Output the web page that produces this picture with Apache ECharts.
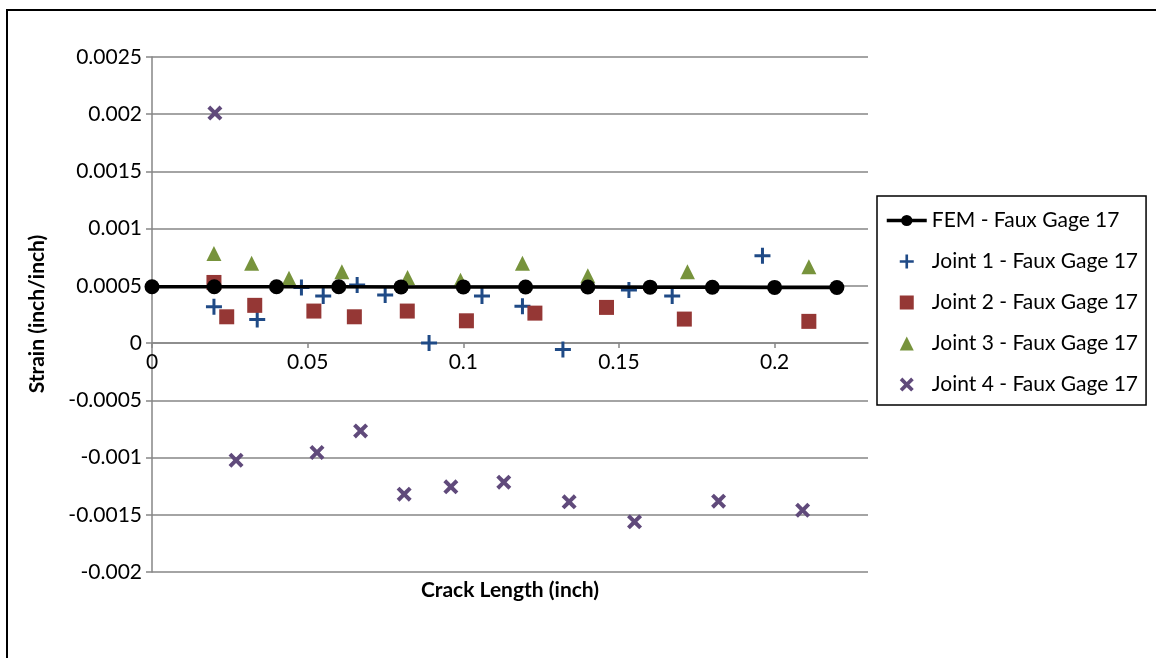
<!DOCTYPE html>
<html>
<head>
<meta charset="utf-8">
<script src="https://cdn.jsdelivr.net/npm/echarts@6/dist/echarts.min.js"></script>
<style>
  html, body { margin: 0; padding: 0; background: #fff; }
  #chart { width: 1156px; height: 658px; }
</style>
</head>
<body>
<div id="chart"></div>
<script>
// Crack length (inch) vs. strain (inch/inch) for Faux Gage 17
const femX = [0, 0.02, 0.04, 0.06, 0.08, 0.10, 0.12, 0.14, 0.16, 0.18, 0.20, 0.22];
const femY = [0.000493, 0.000493, 0.000492, 0.000492, 0.000491, 0.000491, 0.00049, 0.00049, 0.000489, 0.000488, 0.000487, 0.000486];

const joint1X = [0.0199, 0.0338, 0.048, 0.055, 0.0659, 0.0749, 0.089, 0.106, 0.119, 0.132, 0.1532, 0.1671, 0.1961];
const joint1Y = [0.000317, 0.000207, 0.000487, 0.000411, 0.000507, 0.00042, 0.0, 0.000411, 0.000323, -0.000055, 0.000463, 0.000411, 0.000763];

const joint2X = [0.0199, 0.024, 0.033, 0.052, 0.065, 0.082, 0.101, 0.123, 0.146, 0.171, 0.211];
const joint2Y = [0.00053, 0.00023, 0.00033, 0.00028, 0.00023, 0.00028, 0.000195, 0.000262, 0.000312, 0.00021, 0.00019];

const joint3X = [0.0199, 0.032, 0.044, 0.061, 0.0821, 0.0991, 0.119, 0.140, 0.172, 0.211];
const joint3Y = [0.000784, 0.000697, 0.000566, 0.000623, 0.000574, 0.00055, 0.000697, 0.000588, 0.000623, 0.000667];

const joint4X = [0.0202, 0.027, 0.053, 0.067, 0.081, 0.096, 0.113, 0.134, 0.155, 0.182, 0.209];
const joint4Y = [0.00201, -0.001023, -0.000956, -0.000767, -0.00132, -0.001256, -0.001215, -0.001387, -0.001562, -0.001381, -0.00146];

const seriesNames = ['FEM - Faux Gage 17', 'Joint 1 - Faux Gage 17', 'Joint 2 - Faux Gage 17', 'Joint 3 - Faux Gage 17', 'Joint 4 - Faux Gage 17'];
const xTicks = [0, 0.05, 0.1, 0.15, 0.2];

const pair = (xs, ys) => xs.map((x, i) => [x, ys[i]]);

const FONT = 'Lato';
const FS = 21;
const GRID_COLOR = '#868686';
const COLORS = ['#000000', '#1F4A86', '#953735', '#77933C', '#604A7B'];
const PLUS = 'path://M6.5,0h3v6.5h6.5v3h-6.5v6.5h-3v-6.5h-6.5v-3h6.5z';
const CROSS = 'path://M3,0L8,5L13,0L16,3L11,8L16,13L13,16L8,11L3,16L0,13L5,8L0,3Z';
const SQUARE = 'path://M0,0h10v10h-10z';
const TRIANGLE = 'path://M5,0L10,10L0,10Z';

// plot area and y-range, used to sit the x axis on the zero line
const Y_MIN = -0.002, Y_MAX = 0.0025;
const GRID = { left: 152, top: 57, right: 288, bottom: 86 };
const plotH = 658 - GRID.top - GRID.bottom;
const zeroOffset = -plotH * (0 - Y_MIN) / (Y_MAX - Y_MIN);

const chart = echarts.init(document.getElementById('chart'), null, { renderer: 'canvas' });

chart.setOption({
  animation: false,
  backgroundColor: '#fff',
  textStyle: { fontFamily: FONT },
  grid: Object.assign({ containLabel: false }, GRID),
  xAxis: {
    type: 'value',
    min: 0,
    max: 0.23,
    interval: 0.05,
    offset: zeroOffset,
    axisLine: { onZero: false, lineStyle: { color: GRID_COLOR, width: 1.5 } },
    axisTick: { show: true, length: 5, customValues: xTicks, lineStyle: { color: GRID_COLOR, width: 1.5 } },
    axisLabel: { customValues: xTicks, color: '#000', fontSize: FS, fontFamily: FONT, margin: 9 },
    splitLine: { show: false }
  },
  yAxis: {
    type: 'value',
    min: Y_MIN,
    max: Y_MAX,
    interval: 0.0005,
    axisLine: { show: true, onZero: false, lineStyle: { color: GRID_COLOR, width: 1.5 } },
    axisTick: { show: true, length: 6, lineStyle: { color: GRID_COLOR, width: 1.5 } },
    axisLabel: { color: '#000', fontSize: FS, fontFamily: FONT, margin: 10 },
    splitLine: { show: true, lineStyle: { color: GRID_COLOR, width: 1.5 } }
  },
  legend: {
    orient: 'vertical',
    left: 877,
    top: 196,
    padding: [14, 8, 10, 8],
    itemWidth: 40,
    itemHeight: 14,
    itemGap: 20,
    symbolKeepAspect: true,
    borderColor: '#000',
    borderWidth: 1.5,
    lineStyle: { width: 3.5 },
    textStyle: { color: '#000', fontSize: FS, fontFamily: FONT, lineHeight: 20 },
    data: [
      { name: seriesNames[0] },
      { name: seriesNames[1], icon: PLUS },
      { name: seriesNames[2], icon: SQUARE },
      { name: seriesNames[3], icon: TRIANGLE },
      { name: seriesNames[4], icon: CROSS }
    ]
  },
  graphic: [
    {
      type: 'rect',
      shape: { x: 7, y: 10, width: 1160, height: 670 },
      style: { fill: 'none', stroke: '#000', lineWidth: 2 },
      silent: true
    },
    {
      type: 'text',
      x: 510, y: 590,
      style: { text: 'Crack Length (inch)', font: 'bold ' + FS + 'px ' + FONT, fill: '#000', align: 'center', verticalAlign: 'middle' }
    },
    {
      type: 'text',
      x: 37, y: 314,
      rotation: Math.PI / 2,
      style: { text: 'Strain (inch/inch)', font: 'bold ' + FS + 'px ' + FONT, fill: '#000', align: 'center', verticalAlign: 'middle' }
    }
  ],
  series: [
    {
      name: seriesNames[0],
      type: 'line',
      data: pair(femX, femY),
      symbol: 'circle',
      symbolSize: 15,
      showAllSymbol: true,
      itemStyle: { color: COLORS[0], opacity: 1 },
      lineStyle: { color: COLORS[0], width: 3.5 }
    },
    {
      name: seriesNames[1],
      type: 'scatter',
      data: pair(joint1X, joint1Y),
      symbol: PLUS,
      symbolSize: 16,
      itemStyle: { color: COLORS[1], opacity: 1 }
    },
    {
      name: seriesNames[2],
      type: 'scatter',
      data: pair(joint2X, joint2Y),
      symbol: 'rect',
      symbolSize: 15,
      itemStyle: { color: COLORS[2], opacity: 1 }
    },
    {
      name: seriesNames[3],
      type: 'scatter',
      data: pair(joint3X, joint3Y),
      symbol: 'triangle',
      symbolSize: 15,
      itemStyle: { color: COLORS[3], opacity: 1 }
    },
    {
      name: seriesNames[4],
      type: 'scatter',
      data: pair(joint4X, joint4Y),
      symbol: CROSS,
      symbolSize: 15,
      itemStyle: { color: COLORS[4], opacity: 1 }
    }
  ]
});
</script>
</body>
</html>
